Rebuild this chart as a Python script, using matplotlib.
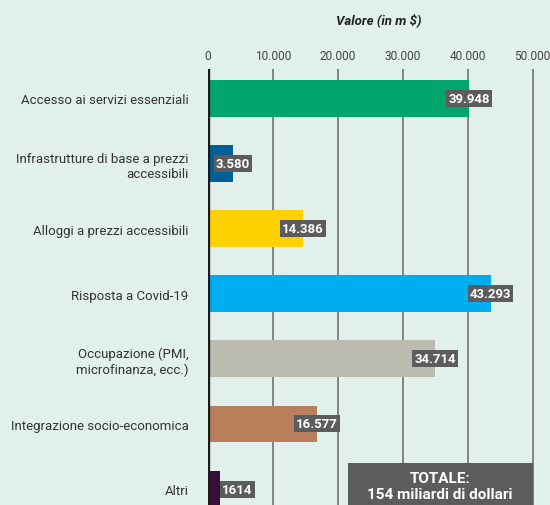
import matplotlib

matplotlib.use("Agg")
import matplotlib.pyplot as plt

plt.rcParams["font.family"] = ["Roboto", "DejaVu Sans"]

categories = [
    "Accesso ai servizi essenziali",
    "Infrastrutture di base a prezzi\naccessibili",
    "Alloggi a prezzi accessibili",
    "Risposta a Covid-19",
    "Occupazione (PMI,\nmicrofinanza, ecc.)",
    "Integrazione socio-economica",
    "Altri",
]
values = [39948, 3580, 14386, 43293, 34714, 16577, 1614]
value_labels = ["39.948", "3.580", "14.386", "43.293", "34.714", "16.577", "1614"]
colors = ["#00a56c", "#005f95", "#ffd100", "#00aeef", "#bbbbb0", "#b97f5b", "#3b0d3b"]
tick_values = [0, 10000, 20000, 30000, 40000, 50000]
tick_labels = ["0", "10.000", "20.000", "30.000", "40.000", "50.000"]
total_text = "TOTALE:\n154 miliardi di dollari"
axis_title = "Valore (in m $)"

bg = "#e2f0eb"
box = "#5c5c5e"

W, H = 550, 506
fig = plt.figure(figsize=(W / 100, H / 100), dpi=100, facecolor=bg)
ax = fig.add_axes([208 / W, 0, 1 - 208 / W, (H - 70) / H], facecolor=bg)

ypos = list(range(len(categories)))
ax.barh(ypos, values, height=0.565, color=colors, left=250, zorder=3)

ax.set_xlim(0, (W - 208) / 64.9 * 10000)
ax.set_ylim(6.245, -0.45)

for x in tick_values[1:]:
    ax.axvline(x, color="#7a7a7a", lw=1.3, zorder=1)
ax.axvline(0, color="#1a1a1a", lw=2.4, zorder=4)

for i, (v, lab) in enumerate(zip(values, value_labels)):
    ha = "left" if v < 3000 else "center"
    ax.text(v + (250 if ha == "center" else 600), i, lab, ha=ha, va="center",
            color="white", fontsize=9.5, fontweight="bold", zorder=5,
            bbox=dict(boxstyle="square,pad=0.15", fc=box, ec="none"))

ax.set_yticks(ypos, categories)
ax.tick_params(axis="y", length=0, pad=14, labelsize=9.5, labelcolor="#333333")
ax.xaxis.tick_top()
ax.set_xticks(tick_values, tick_labels)
ax.tick_params(axis="x", length=0, pad=5, labelsize=8.6, labelcolor="#444444")
ax.get_xticklabels()[-1].set_x(49800)
for lab in ax.get_yticklabels():
    lab.set_horizontalalignment("right")
    lab.set_multialignment("right")
for s in ax.spines.values():
    s.set_visible(False)

ax.text(0.5, 1.115, axis_title, transform=ax.transAxes, ha="center", va="center",
        fontsize=9.5, fontstyle="italic", fontweight="bold", color="#222222")

fig.patches.append(plt.Rectangle((348 / W, 0), (533 - 348) / W, (506 - 464) / H,
                                 transform=fig.transFigure, fc=box, ec="none", zorder=6))
fig.text(440 / W, (H - 487) / H, total_text, ha="center", va="center", color="white",
         fontsize=11, fontweight="bold", linespacing=1.15, zorder=7)

fig.savefig("out.png", dpi=100, facecolor=bg)
